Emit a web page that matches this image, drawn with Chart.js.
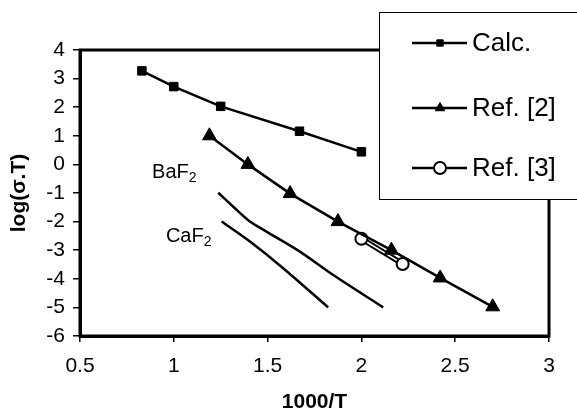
<!DOCTYPE html>
<html>
<head>
<meta charset="utf-8">
<script src="https://cdn.jsdelivr.net/npm/chart.js@4.4.1/dist/chart.umd.min.js"></script>
<style>
  body { margin: 0; background: #fff; }
  canvas { display: block; }
</style>
</head>
<body>
<canvas id="chart" width="577" height="413"></canvas>
<script>
const calcX = [0.83, 1.0, 1.25, 1.67, 2.0];
const calcY = [3.27, 2.72, 2.03, 1.16, 0.44];
const ref2X = [1.19, 1.395, 1.62, 1.875, 2.16, 2.42, 2.7];
const ref2Y = [1.0, 0.0, -1.02, -2.0, -3.0, -3.97, -4.98];
const ref3X = [2.0, 2.22];
const ref3Y = [-2.6, -3.48];
const bafX = [1.237, 1.317, 1.406, 1.494, 1.672, 1.85, 2.116];
const bafY = [-0.99, -1.48, -2.0, -2.35, -3.05, -3.87, -5.0];
const cafX = [1.255, 1.406, 1.583, 1.823];
const cafY = [-2.0, -2.7, -3.63, -5.0];
const legendNames = ["Calc.", "Ref. [2]", "Ref. [3]"];
const xTitle = "1000/T";
const yTitle = "log(σ.T)";

const pts = (xs, ys) => xs.map((x, i) => ({ x: x, y: ys[i] }));
const font = "Arial, 'Liberation Sans', sans-serif";

const markers = [
  { pointStyle: "rect", radius: 4.5, backgroundColor: "#000", borderColor: "#000", borderWidth: 1 },
  { pointStyle: "triangle", radius: 5.5, backgroundColor: "#000", borderColor: "#000", borderWidth: 1 },
  { pointStyle: "circle", radius: 6, backgroundColor: "#fff", borderColor: "#000", borderWidth: 2 },
];

const frame = {
  id: "frame",
  afterDraw(chart) {
    const ctx = chart.ctx;
    const a = chart.chartArea;
    const sx = chart.scales.x;
    const sy = chart.scales.y;
    ctx.save();
    ctx.strokeStyle = "#000";
    ctx.lineWidth = 3;
    ctx.strokeRect(a.left, a.top, a.right - a.left, a.bottom - a.top);

    // material labels
    ctx.fillStyle = "#000";
    ctx.textBaseline = "alphabetic";
    ctx.textAlign = "left";
    [["BaF", 0.884, -0.476], ["CaF", 0.958, -2.71]].forEach(([t, vx, vy]) => {
      const px = sx.getPixelForValue(vx);
      const py = sy.getPixelForValue(vy);
      ctx.font = "20px " + font;
      ctx.fillText(t, px, py);
      const w = ctx.measureText(t).width;
      ctx.font = "14px " + font;
      ctx.fillText("2", px + w, py + 4);
    });

    // legend box
    ctx.fillStyle = "#fff";
    ctx.fillRect(379.5, 12.5, 260, 187);
    ctx.lineWidth = 1;
    ctx.strokeRect(379.5, 12.5, 260, 187);
    const rows = [43, 108, 168];
    rows.forEach((y, i) => {
      ctx.strokeStyle = "#000";
      ctx.lineWidth = 2.5;
      ctx.beginPath();
      ctx.moveTo(412, y);
      ctx.lineTo(467, y);
      ctx.stroke();
      const m = markers[i];
      ctx.fillStyle = m.backgroundColor;
      ctx.strokeStyle = m.borderColor;
      ctx.lineWidth = m.borderWidth;
      Chart.helpers.drawPoint(ctx, { pointStyle: m.pointStyle, radius: m.radius, rotation: 0, borderWidth: m.borderWidth }, 440, y);
      ctx.fillStyle = "#000";
      ctx.font = "26px " + font;
      ctx.textBaseline = "middle";
      ctx.fillText(legendNames[i], 472, y + 1);
    });
    ctx.restore();
  },
};

const lineSet = (data, extra) => Object.assign({
  data: data,
  borderColor: "#000",
  borderWidth: 2.5,
  showLine: true,
  pointRadius: 0,
  tension: 0,
}, extra);

new Chart(document.getElementById("chart"), {
  type: "scatter",
  data: {
    datasets: [
      lineSet(pts(calcX, calcY), { label: legendNames[0], pointStyle: "rect", pointRadius: 6, pointBackgroundColor: "#000", pointBorderColor: "#000", pointBorderWidth: 1 }),
      lineSet(pts(ref2X, ref2Y), { label: legendNames[1], pointStyle: "triangle", pointRadius: 8, pointBackgroundColor: "#000", pointBorderColor: "#000", pointBorderWidth: 1 }),
      lineSet(pts(ref3X, ref3Y), { label: legendNames[2], borderColor: "#fff", borderWidth: 1.5, pointStyle: "circle", pointRadius: 6, pointBackgroundColor: "#fff", pointBorderColor: "#000", pointBorderWidth: 2 }),
      lineSet(pts(ref3X, ref3Y), { label: "", borderWidth: 5.5 }),
      lineSet(pts(bafX, bafY), { label: "BaF2", tension: 0.3 }),
      lineSet(pts(cafX, cafY), { label: "CaF2", tension: 0.3 }),
    ],
  },
  options: {
    responsive: false,
    animation: false,
    layout: { padding: { top: 50, right: 28, left: 0, bottom: 0 } },
    plugins: { legend: { display: false }, tooltip: { enabled: false } },
    scales: {
      x: {
        type: "linear",
        min: 0.5,
        max: 3,
        afterFit: (s) => { s.height = 77; },
        ticks: { stepSize: 0.5, color: "#000", font: { size: 21, family: font }, padding: 12, callback: (v) => String(v) },
        grid: { drawOnChartArea: false, color: "#000", tickLength: 6, lineWidth: 1.5 },
        border: { color: "#000", width: 3 },
        title: { display: true, text: xTitle, color: "#000", font: { size: 21, weight: "bold", family: font, lineHeight: 1 }, padding: { top: 0, bottom: 0 } },
      },
      y: {
        min: -6,
        max: 4,
        afterFit: (s) => { s.width = 80; },
        ticks: { stepSize: 1, color: "#000", font: { size: 21, family: font }, padding: 8 },
        grid: { drawOnChartArea: false, color: "#000", tickLength: 7, lineWidth: 1.5 },
        border: { color: "#000", width: 3 },
        title: { display: true, text: yTitle, color: "#000", font: { size: 21, weight: "bold", family: font, lineHeight: 1 }, padding: { top: 9, bottom: 9 } },
      },
    },
  },
  plugins: [frame],
});
</script>
</body>
</html>
